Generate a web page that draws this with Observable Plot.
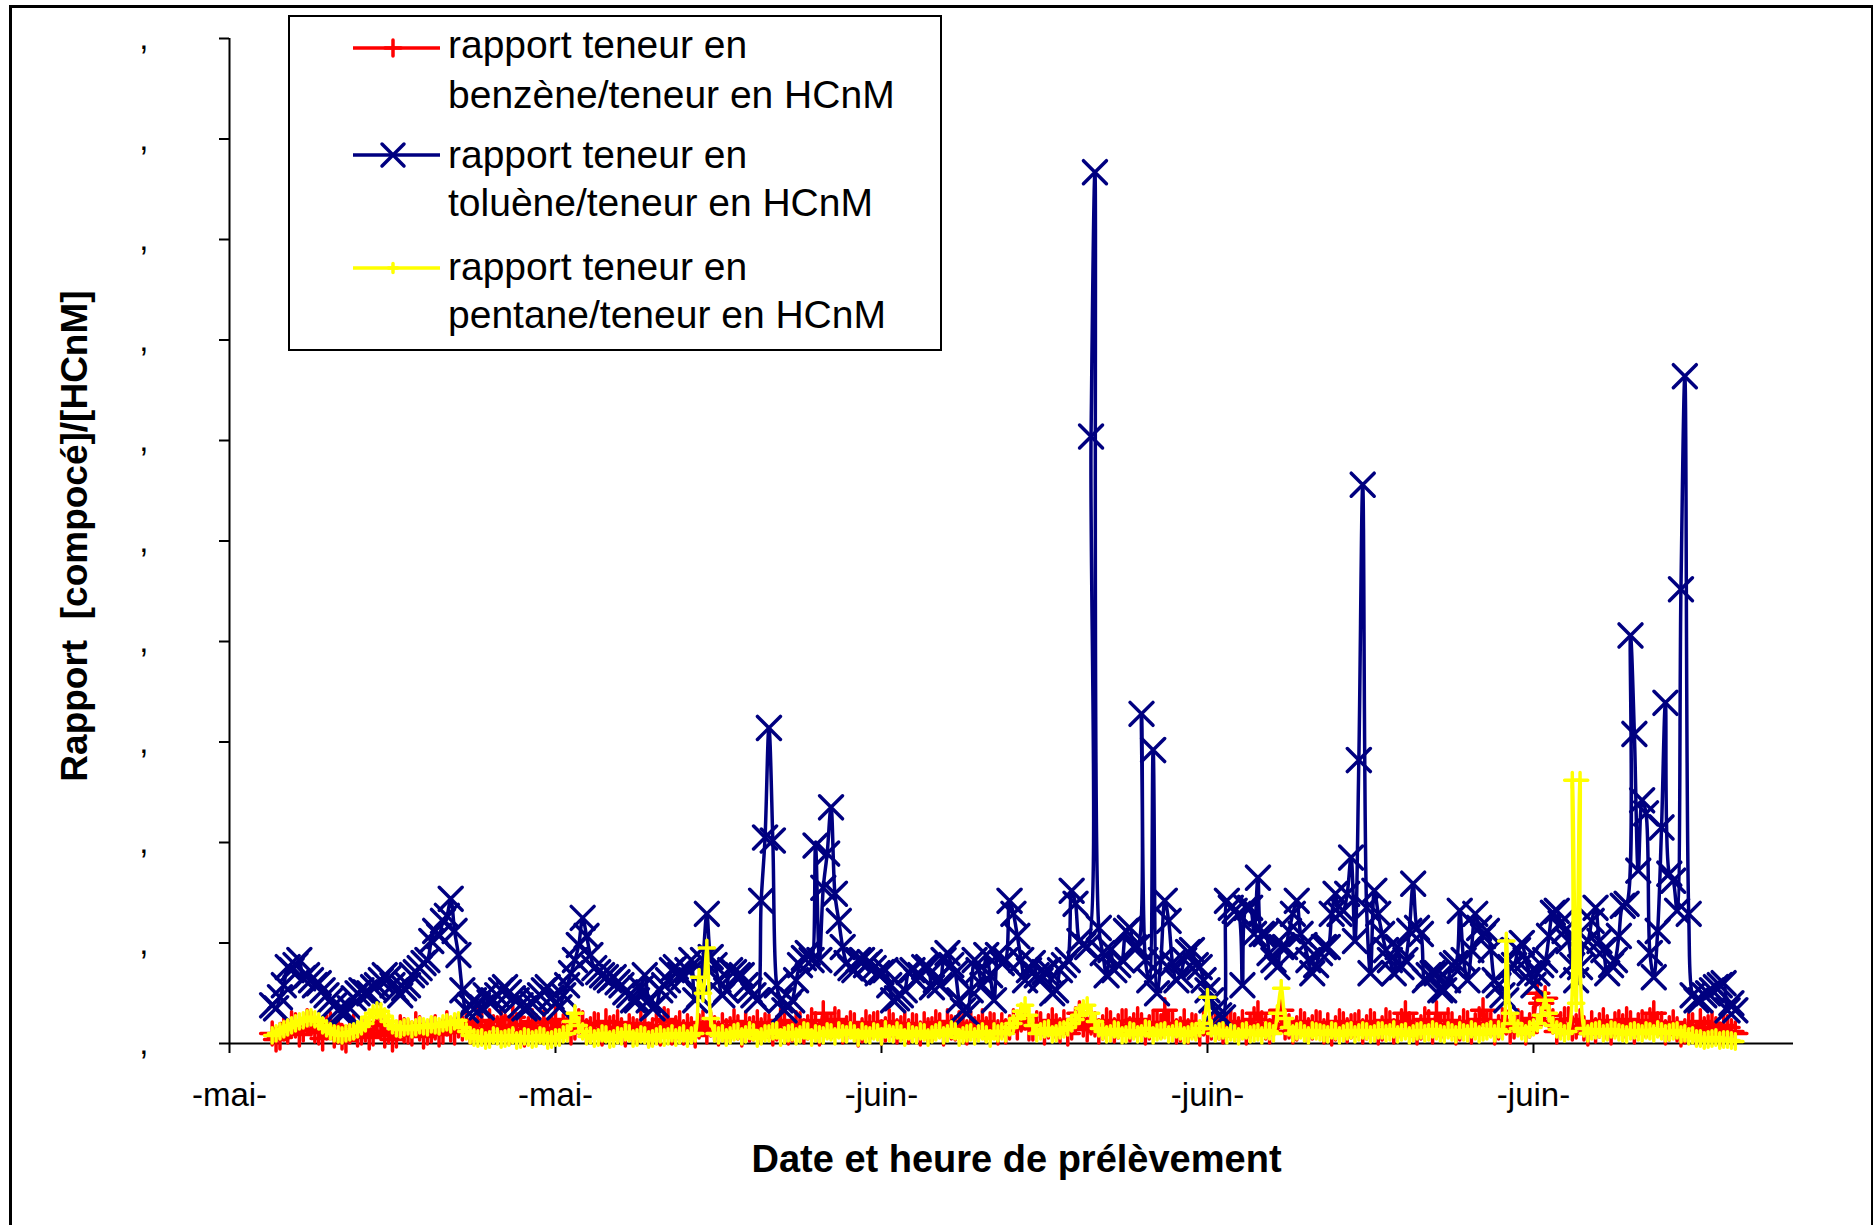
<!DOCTYPE html>
<html>
<head>
<meta charset="utf-8">
<script src="https://cdn.jsdelivr.net/npm/d3@7"></script>
<script src="https://cdn.jsdelivr.net/npm/@observablehq/plot@0.6"></script>
<style>
  html, body { margin: 0; padding: 0; background: #fff; width: 1874px; height: 1225px; overflow: hidden; }
  #page { position: relative; width: 1874px; height: 1225px; font-family: "Liberation Sans", Arial, sans-serif; }
  #chart, #legend { position: absolute; left: 0; top: 0; }
  #frame { position: absolute; left: 9px; top: 5px; width: 1859px; height: 1240px;
           border: 3px solid #000; border-right-width: 2px; pointer-events: none; }
</style>
</head>
<body>
<div id="page">
  <div id="chart"></div>
  <svg id="legend" width="1874" height="1225"></svg>
  <div id="frame"></div>
</div>
<script>
// Sampling: one measurement every 2 hours, starting 19 May 22:00
const sampleStart = new Date("2004-05-19T22:00Z");
const sampleStepHours = 2;

// x axis: weekly ticks, labels show only the month
const xStart = new Date("2004-05-19T00:00Z");
const xEnd = new Date("2004-06-21T14:00Z");
const xTickDates = ["2004-05-19", "2004-05-26", "2004-06-02", "2004-06-09", "2004-06-16"].map(d => new Date(d + "T00:00Z"));
const xTickLabels = ["-mai-", "-mai-", "-juin-", "-juin-", "-juin-"];

// y axis ticks (labels render as the decimal comma only)
const yTicks = [0, 0.1, 0.2, 0.3, 0.4, 0.5, 0.6, 0.7, 0.8, 0.9, 1.0];

// rapport benzène / HCnM
const benzene = [
  .010,.004, .006,.015, .012,.020, .018,.009, .014,.022, .020,.013, .011,.005, .016,.019, .008,.012, .006,.003,
  .012,.017, .009,.011, .014,.006, .010,.021, .018,.008, .012,.004, .008,.016, .013,.012, .010,.019, .015,.007,
  .011,.013, .016,.009, .012,.020, .014,.011, .018,.015,
  .020,.012, .014,.023, .018,.010, .022,.016, .015,.024, .017,.011, .026,.018, .019,.009, .014,.022, .017,.013,
  .021,.010, .015,.024, .012,.017, .018,.011, .016,.022, .020,.012, .014,.019, .018,.010, .022,.015, .016,.021,
  .013,.009, .017,.014,
  .012,.020, .016,.009, .013,.018, .010,.024, .022,.011, .015,.020, .011,.017, .014,.008, .017,.021, .012,.019,
  .015,.010, .018,.012, .014,.022, .016,.009, .020,.014, .015,.021, .013,.018, .017,.010, .015,.023, .019,.011,
  .014,.020, .019,.012, .016,.023, .019,.010, .030,.018, .017,.024, .021,.012, .015,.020, .018,.009, .013,.021,
  .016,.019, .020,.011, .014,.022, .018,.012, .015,.020, .012,.018, .017,.010, .019,.013, .014,.021, .018,.010,
  .022,.016, .015,.020, .017,.011, .020,.014, .016,.022, .014,.019, .018,.011,
  .018,.012, .016,.022, .016,.024, .026,.015, .015,.020, .019,.011, .017,.023, .017,.013, .021,.010, .016,.024,
  .030,.019, .014,.021, .019,.012, .016,.023, .020,.013, .017,.022, .022,.014, .018,.024, .018,.011, .016,.021,
  .020,.017, .033,.020, .019,.012, .014,.022, .012,.018, .017,.010, .020,.013, .016,.023, .016,.012, .018,.022,
  .018,.014, .021,.011, .017,.024, .030,.020, .016,.012, .019,.023, .033,.016, .017,.012, .015,.022, .019,.013,
  .016,.021, .020,.012, .018,.010, .015,.022, .019,.013, .017,.018, .021,.012,
  .016,.022, .019,.011, .015,.023, .020,.012, .017,.022, .030,.019, .018,.011, .016,.024, .021,.012, .030,.018,
  .017,.023, .019,.011, .015,.022, .020,.012, .018,.024, .033,.020, .019,.011, .016,.023, .021,.012, .017,.022,
  .020,.011, .018,.025, .050,.040, .045,.028, .022,.012, .019,.024, .024,.015, .017,.022, .015,.010, .020,.013,
  .018,.023, .016,.011, .019,.021, .017,.024, .020,.012, .018,.021, .018,.023, .030,.019, .019,.011, .015,.021,
  .014,.009, .012,.018, .018,.010, .022,.014, .016,.020, .014,.009, .018,.016, .012,.010
];

// rapport toluène / HCnM
const toluene = [
  .038,.035, .046,.058, .076,.073, .078,.083, .065,.068, .063,.058, .060,.053, .048,.043, .038,.033, .031,.031,
  .035,.045, .050,.053, .051,.050, .056,.058, .063,.068, .065,.058, .053,.048, .055,.058, .068,.071, .075,.080,
  .083,.102, .112,.107, .122,.127, .144,.112, .088,.053, .033,.038, .043,.038, .036,.048, .041,.043, .048,.053,
  .056,.051, .045,.043, .038,.035, .036,.040, .043,.048, .053,.056, .046,.040, .036,.048, .058,.070, .083,.098,
  .125,.107, .088,.075, .071,.068, .066,.063, .066,.061, .058,.051, .048,.043, .043,.055, .068,.043, .035,.038,
  .053,.058, .063,.073, .076,.068, .066,.073, .083,.043, .048,.083, .129,.086, .078,.063, .048,.053, .073,.071,
  .068,.068, .058,.053, .048,.043, .142,.205, .314,.202, .058,.043, .033,.038, .043,.063, .078,.085, .090,.083,
  .197,.083, .155,.189, .235,.149, .122,.096, .080,.075, .073,.083, .083,.078, .081,.075, .070,.071, .073,.058,
  .043,.045, .048,.053, .071,.073, .063,.068, .076,.076, .056,.063, .058,.083, .090,.078, .070,.043, .033,.030,
  .053,.083, .073,.058, .088,.068, .043,.088, .080,.083, .142,.129, .107,.083, .063,.073, .080,.068, .063,.071,
  .073,.050, .053,.073, .078,.083, .152,.139, .102,.098, .096,.604, .867,.115, .090,.068, .093,.073, .078,.083,
  .112,.115, .096,.096, .328,.083, .063,.292, .050,.083, .142,.122, .080,.063, .068,.083, .091,.093, .078,.076,
  .063,.053, .043,.033, .028,.026, .142,.135, .132,.129, .058,.135, .135,.109, .165,.109, .109,.090, .083,.076,
  .096,.096, .112,.129, .142,.109, .098,.083, .070,.078, .090,.096, .096,.129, .149,.129, .132,.149, .185,.102,
  .282,.556, .135,.070, .152,.129, .109,.093, .083,.070, .096,.076, .083,.112, .159,.115, .109,.063, .068,.070,
  .070,.053, .053,.063, .078,.080, .132,.083, .063,.093, .129,.115, .107,.112, .093,.063, .058,.048, .043,.076,
  .078,.093, .100,.083, .070,.058, .070,.078, .083,.107, .130,.132, .120,.112, .102,.078, .063,.076, .098,.102,
  .122,.135, .102,.093, .070,.078, .083,.107, .137,.139, .406,.308, .172,.242, .229,.090, .066,.112, .215,.339,
  .169,.162, .132,.452, .664,.129, .048,.043, .043,.048, .050,.053, .056,.058, .060,.033, .040,.033
];

// rapport pentane / HCnM
const pentane = [
  .008,.010, .012,.014, .016,.018, .020,.022, .023,.025, .026,.024, .022,.018, .015,.012, .010,.009, .008,.010,
  .011,.012, .014,.017, .020,.026, .030,.033, .032,.027, .022,.018, .015,.014, .016,.017, .014,.016, .018,.017,
  .016,.019, .018,.017, .020,.021, .019,.022, .023,.016, .012,.008, .006,.005,
  .006,.003, .004,.008, .007,.004, .005,.006, .008,.003, .004,.007, .006,.004, .005,.008, .007,.003, .004,.006,
  .006,.009,
  .010,.022, .030,.018, .012,.007,
  .008,.005, .006,.010, .009,.004, .005,.008, .007,.011, .010,.005, .006,.009, .008,.004, .005,.007, .009,.006,
  .007,.010, .006,.008, .010,.005, .008,.010,
  .066,.050, .095,.025, .010,.008,
  .010,.006, .008,.011, .012,.007, .009,.013, .011,.005, .007,.010, .010,.012, .013,.006, .008,.010, .011,.007,
  .009,.013, .012,.006, .010,.009, .008,.012, .011,.007, .013,.010, .009,.013, .010,.006, .012,.009, .008,.012,
  .011,.007, .014,.010, .009,.013, .010,.006, .012,.009, .008,.012, .011,.006, .009,.011, .013,.008, .010,.014,
  .012,.006, .008,.010, .011,.007, .010,.012, .009,.005, .012,.010,
  .012,.010, .016,.020, .025,.032, .038,.028, .018,.010, .012,.014, .015,.009, .010,.013, .014,.016, .020,.024,
  .028,.035, .038,.030, .022,.015, .012,.009, .010,.014, .013,.008, .009,.013, .012,.009, .010,.015, .014,.008,
  .011,.012, .013,.009, .010,.014, .012,.008, .009,.012, .011,.015, .020,.046, .015,.010, .012,.013, .008,.011,
  .010,.007, .012,.013, .009,.010, .011,.008, .013,.012, .010,.030, .055,.025, .016,.010, .012,.013, .010,.008,
  .013,.012, .011,.010, .009,.013, .012,.008, .010,.012, .013,.009, .011,.013,
  .012,.009, .010,.013, .013,.010, .011,.014, .009,.011, .012,.008, .010,.012, .013,.010, .011,.014, .012,.010,
  .009,.013, .011,.009, .013,.011, .010,.014, .012,.009, .011,.012, .014,.010, .014,.012, .102,.030, .020,.015,
  .012,.010, .014,.016, .020,.028, .043,.030, .018,.014, .012,.010, .012,.262, .040,.262, .015,.010, .012,.013,
  .014,.010, .011,.014, .013,.011, .010,.009, .012,.013, .011,.010, .013,.012, .010,.014, .012,.010, .011,.012,
  .013,.009, .010,.007, .008,.005, .005,.003, .004,.005, .006,.003, .004,.004, .003,.002
];

const seriesNames = [
  ["rapport teneur en", "benzène/teneur en HCnM"],
  ["rapport teneur en", "toluène/teneur en HCnM"],
  ["rapport teneur en", "pentane/teneur en HCnM"]
];
const seriesColors = ["#FF0000", "#000080", "#FFFF00"];

const xTitle = "Date et heure de prélèvement";
const yTitle = "Rapport\u00a0\u00a0[compocé]/[HCnM]";

const n = Math.min(benzene.length, toluene.length, pentane.length);
const rows = d3.range(n).map(i => ({
  t: d3.utcHour.offset(sampleStart, i * sampleStepHours),
  benzene: benzene[i],
  toluene: toluene[i],
  pentane: pentane[i]
}));

const lineWidth = 3.5;

const chart = Plot.plot({
  width: 1874,
  height: 1225,
  marginLeft: 229,
  marginRight: 81,
  marginTop: 38,
  marginBottom: 182,
  style: { fontFamily: "'Liberation Sans', Arial, sans-serif", fontSize: "33px", color: "#000", background: "transparent", overflow: "visible" },
  x: { type: "utc", domain: [xStart, xEnd] },
  y: { domain: [0, 1] },
  marks: [
    Plot.axisY(yTicks, { tickSize: 10, tickPadding: 71, tickFormat: () => ",", label: null, strokeWidth: 2, fontSize: 33 }),
    Plot.axisX(xTickDates, {
      tickSize: 10, tickPadding: 29, label: null, strokeWidth: 2, fontSize: 33,
      tickFormat: d => xTickLabels[xTickDates.findIndex(t => +t === +d)]
    }),
    Plot.ruleX([xStart], { stroke: "#000", strokeWidth: 2 }),
    Plot.ruleY([0], { stroke: "#000", strokeWidth: 2 }),

    // benzène
    Plot.line(rows, { x: "t", y: "benzene", stroke: seriesColors[0], strokeWidth: lineWidth, curve: "catmull-rom" }),
    Plot.dot(rows, { x: "t", y: "benzene", symbol: "plus", r: 7.5, stroke: seriesColors[0], strokeWidth: lineWidth, strokeLinecap: "round" }),
    // toluène
    Plot.line(rows, { x: "t", y: "toluene", stroke: seriesColors[1], strokeWidth: lineWidth, curve: "catmull-rom" }),
    Plot.dot(rows, { x: "t", y: "toluene", symbol: "times", r: 10.5, stroke: seriesColors[1], strokeWidth: lineWidth, strokeLinecap: "round" }),
    // pentane
    Plot.line(rows, { x: "t", y: "pentane", stroke: seriesColors[2], strokeWidth: lineWidth, curve: "catmull-rom" }),
    Plot.dot(rows, { x: "t", y: "pentane", symbol: "plus", r: 5, stroke: seriesColors[2], strokeWidth: lineWidth, strokeLinecap: "round" }),

    // axis titles
    Plot.text([xTitle], { frameAnchor: "bottom", dx: 5, dy: 116, lineAnchor: "middle", textAnchor: "middle", fontWeight: "bold", fontSize: 38, fill: "#000" }),
    Plot.text([yTitle], { frameAnchor: "left", dx: -154, dy: -5, rotate: -90, lineAnchor: "middle", textAnchor: "middle", fontWeight: "bold", fontSize: 37, fill: "#000" })
  ]
});
document.getElementById("chart").append(chart);

// Legend box in the upper-left of the plot area
const legend = d3.select("#legend");
legend.append("rect")
  .attr("x", 289).attr("y", 16).attr("width", 652).attr("height", 334)
  .attr("fill", "#fff").attr("stroke", "#000").attr("stroke-width", 2);

const sampleY = [48, 155, 268];
const textY = [[58, 108], [168, 216], [280, 328]];
const markerPath = [
  (x, y) => `M${x - 8},${y}H${x + 8}M${x},${y - 8}V${y + 8}`,
  (x, y) => `M${x - 11},${y - 11}L${x + 11},${y + 11}M${x - 11},${y + 11}L${x + 11},${y - 11}`,
  (x, y) => `M${x - 4.5},${y}H${x + 4.5}M${x},${y - 4.5}V${y + 4.5}`
];
seriesNames.forEach((lines, k) => {
  const g = legend.append("g");
  g.append("line")
    .attr("x1", 353).attr("x2", 440).attr("y1", sampleY[k]).attr("y2", sampleY[k])
    .attr("stroke", seriesColors[k]).attr("stroke-width", 3.5);
  g.append("path")
    .attr("d", markerPath[k](393, sampleY[k]))
    .attr("fill", "none").attr("stroke", seriesColors[k]).attr("stroke-width", 3.5).attr("stroke-linecap", "round");
  lines.forEach((line, j) => {
    g.append("text")
      .attr("x", 448).attr("y", textY[k][j])
      .attr("font-family", "'Liberation Sans', Arial, sans-serif")
      .attr("font-size", 39).attr("fill", "#000")
      .text(line);
  });
});
</script>
</body>
</html>
